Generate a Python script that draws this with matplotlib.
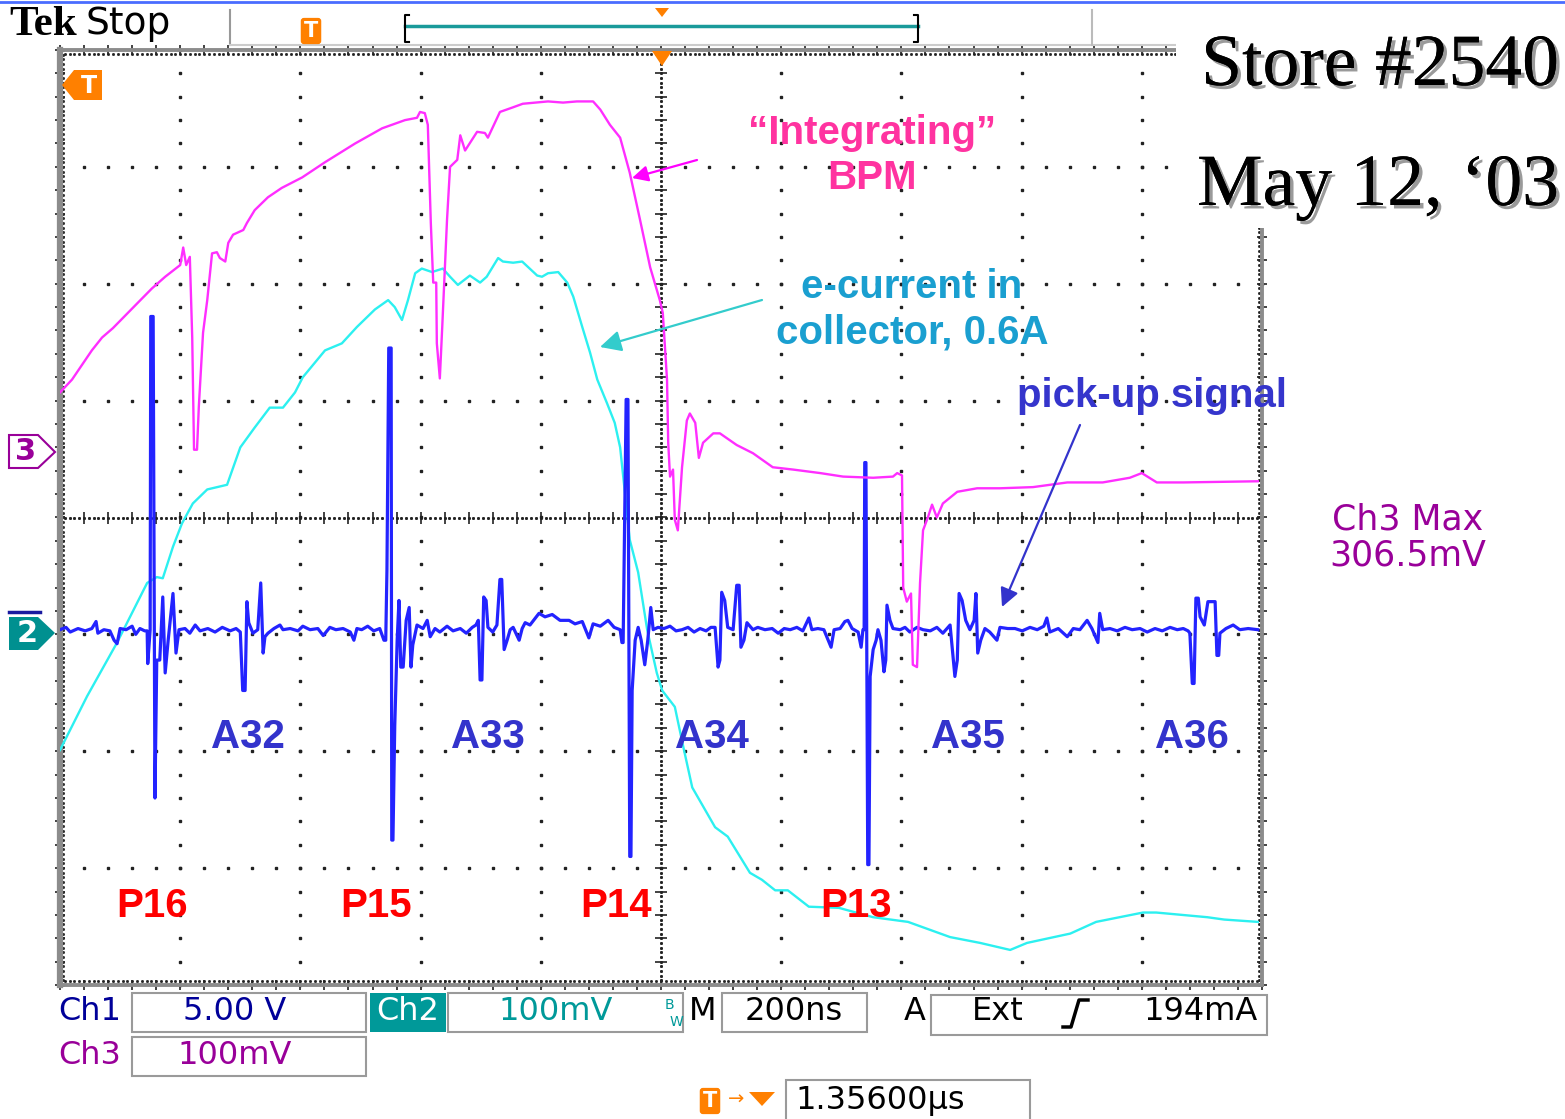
import numpy as np
import matplotlib
matplotlib.use('Agg')
import matplotlib.pyplot as plt
from matplotlib import patches
from matplotlib.lines import Line2D
import matplotlib.patheffects as pe

# scope screen: 10 div x 200 ns, levels in screen divisions (center = 0)
ch3_t = [0, 20, 53, 70, 88, 130, 153, 175, 200, 205,
         210, 216, 220, 223, 228, 231, 238, 245, 253, 261,
         266, 275, 280, 288, 305, 311, 324, 346, 369, 403,
         441, 491, 536, 574, 594, 599, 607, 612, 617, 621,
         626, 627, 632, 636, 644, 649, 661, 666, 674, 694,
         707, 712, 732, 754, 770, 812, 837, 860, 887, 899,
         915, 932, 948, 965, 982, 998, 1003, 1010, 1012, 1015,
         1020, 1023, 1028, 1035, 1043, 1048, 1057, 1063, 1070, 1087,
         1098, 1126, 1153, 1186, 1220, 1265, 1303, 1353, 1386, 1393,
         1401, 1403, 1409, 1416, 1419, 1426, 1431, 1436, 1444, 1451,
         1459, 1469, 1493, 1526, 1564, 1619, 1676, 1735, 1780, 1800,
         1825, 1869, 1993]
ch3_v = [1.07, 1.18, 1.43, 1.54, 1.62, 1.84, 1.96, 2.06, 2.16, 2.31,
         2.16, 2.23, 1.54, 0.58, 0.58, 0.95, 1.58, 1.86, 2.26, 2.27,
         2.22, 2.19, 2.35, 2.42, 2.46, 2.52, 2.63, 2.74, 2.82, 2.91,
         3.04, 3.20, 3.33, 3.40, 3.42, 3.47, 3.46, 3.36, 2.52, 2.01,
         2.01, 1.49, 1.19, 1.63, 2.55, 3.00, 3.06, 3.27, 3.14, 3.30,
         3.29, 3.25, 3.47, 3.51, 3.54, 3.56, 3.55, 3.56, 3.56, 3.49,
         3.36, 3.25, 2.95, 2.55, 2.14, 1.86, 1.75, 1.18, 0.64, 0.35,
         0.41, -0.02, -0.11, 0.43, 0.83, 0.89, 0.81, 0.51, 0.64, 0.72,
         0.72, 0.62, 0.55, 0.43, 0.41, 0.38, 0.35, 0.34, 0.35, 0.38,
         0.36, -0.60, -0.72, -0.65, -1.26, -1.28, -0.56, -0.11, 0.00, 0.11,
         0.00, 0.12, 0.22, 0.25, 0.25, 0.26, 0.30, 0.30, 0.34, 0.38,
         0.30, 0.30, 0.31]

ch2_t = [0, 45, 95, 145, 161, 171, 188, 203, 221, 245,
         278, 300, 324, 349, 371, 391, 404, 441, 469, 494,
         524, 546, 557, 569, 579, 591, 602, 619, 637, 649,
         662, 682, 699, 710, 729, 737, 754, 769, 794, 802,
         812, 829, 844, 854, 869, 882, 894, 910, 923, 932,
         940, 948, 962, 977, 993, 1002, 1023, 1037, 1052, 1090,
         1111, 1148, 1168, 1190, 1211, 1246, 1296, 1353, 1411, 1481,
         1531, 1581, 1609, 1681, 1724, 1802, 1824, 1909, 1937, 1993]
ch2_v = [-1.99, -1.53, -1.07, -0.56, -0.51, -0.52, -0.25, -0.05, 0.12, 0.24,
         0.28, 0.60, 0.77, 0.94, 0.94, 1.07, 1.20, 1.43, 1.49, 1.63,
         1.78, 1.86, 1.80, 1.69, 1.86, 2.09, 2.13, 2.10, 2.13, 2.06,
         1.99, 2.07, 2.01, 2.06, 2.22, 2.19, 2.18, 2.19, 2.07, 2.06,
         2.09, 2.10, 2.01, 1.89, 1.63, 1.41, 1.18, 0.98, 0.81, 0.60,
         0.21, -0.19, -0.47, -0.96, -1.33, -1.48, -1.62, -1.96, -2.31, -2.65,
         -2.73, -3.04, -3.10, -3.19, -3.19, -3.33, -3.34, -3.42, -3.46, -3.59,
         -3.64, -3.70, -3.64, -3.56, -3.46, -3.38, -3.38, -3.42, -3.44, -3.46]

# pick-up signal, one line per stretch
ch1_t = [0, 10, 17, 30, 42, 53, 60, 63, 73, 83, 90, 95, 100, 110, 120, 126, 133, 141,
         145, 146, 150, 151, 155, 158, 161, 166, 171, 175, 180, 188, 193, 198,
         208, 216, 225, 233, 246, 258, 270, 283, 293, 300,
         304, 308, 311, 314, 321, 329, 334, 338, 341, 346, 356, 366, 371, 383, 396,
         404, 416, 429, 438, 449, 459, 471, 483, 489, 494, 502, 512, 522, 532, 539,
         542, 544, 547, 551, 552, 554, 557, 561, 564, 567, 571, 576, 581, 584, 587,
         594, 604, 611, 616, 624, 632, 644, 654, 666, 676, 686, 692,
         696, 699, 702, 705, 709, 712, 720, 727, 732, 735, 739, 744, 749, 754, 764,
         769, 774, 782, 797, 807, 819, 832, 847, 857, 869, 880, 887, 899, 912, 922, 932,
         935, 937, 942, 945, 948, 950, 952, 957, 962, 967, 973, 978, 983, 987, 995,
         1005, 1015, 1025, 1035, 1045, 1055, 1065, 1075, 1083, 1090,
         1095, 1098, 1101, 1106, 1111, 1120, 1126, 1130, 1133, 1138, 1143, 1153, 1161,
         1173, 1185, 1195, 1205, 1215, 1226, 1236, 1246, 1251, 1261, 1271, 1283, 1288,
         1298, 1306, 1311, 1318, 1328, 1333, 1336,
         1338, 1339, 1341, 1344, 1346, 1348, 1353, 1358, 1361, 1366, 1371, 1374, 1376,
         1381, 1386, 1398, 1406, 1414, 1426, 1436, 1448, 1459, 1469, 1481,
         1489, 1493, 1496, 1501, 1507, 1514, 1521, 1524, 1527, 1532, 1539, 1547, 1559,
         1564, 1577, 1589, 1601, 1614, 1626, 1637, 1642, 1647, 1661, 1676, 1686, 1697,
         1709, 1717, 1727, 1730, 1735, 1747, 1759, 1772, 1784, 1797, 1809, 1822, 1834,
         1847, 1859, 1869, 1877,
         1880, 1884, 1887, 1890, 1894, 1897, 1904, 1910, 1917, 1922, 1925, 1928, 1930,
         1940, 1952, 1963, 1977, 1993]
ch1_v = [-0.96, -0.94, -0.98, -0.95, -0.97, -0.95, -0.89, -0.99, -0.96, -0.97, -1.05, -1.08, -0.95, -0.96, -0.93, -1.00, -0.95, -0.97,
         -0.97, -1.25, -0.96, 1.72, 1.72, -2.40, -1.22, -1.22, -0.68, -1.33, -1.05, -0.65, -1.16, -0.96,
         -0.95, -0.99, -0.92, -0.97, -0.95, -0.98, -0.94, -0.97, -0.95, -0.98,
         -1.48, -1.48, -0.72, -0.90, -0.99, -0.96, -0.56, -1.16, -1.02, -0.99, -0.95, -0.92, -0.96, -0.95, -0.97,
         -0.93, -0.96, -0.95, -1.01, -0.94, -0.96, -0.95, -0.98, -1.05, -0.95, -0.96, -0.93, -0.97, -0.95, -1.05,
         -1.05, -0.45, 1.45, 1.45, -2.76, -2.76, -1.78, -1.05, -0.71, -1.28, -1.28, -0.88, -0.77, -1.28, -1.09,
         -0.92, -0.95, -0.88, -1.02, -0.95, -0.98, -0.93, -0.97, -0.95, -0.99, -0.94, -0.92,
         -0.88, -1.39, -1.39, -0.68, -0.71, -0.94, -0.98, -0.92, -0.53, -0.53, -1.13, -1.05, -0.96, -0.94, -1.05,
         -0.95, -0.90, -0.92, -0.82, -0.85, -0.83, -0.88, -0.88, -0.91, -0.89, -1.03, -0.91, -0.93, -0.88, -0.94, -0.96,
         -1.07, -1.07, 1.01, 1.01, -2.90, -2.90, -1.48, -1.05, -0.94, -1.05, -1.26, -1.05, -0.77, -0.96, -0.94,
         -0.95, -0.93, -0.97, -0.96, -0.94, -0.98, -0.95, -0.97, -0.94, -0.94,
         -1.28, -1.22, -0.64, -0.71, -0.94, -0.96, -0.58, -0.58, -1.11, -1.05, -0.90, -0.96, -0.94,
         -0.96, -0.95, -0.99, -0.95, -0.96, -0.94, -0.97, -0.86, -0.96, -0.95, -0.96, -1.11, -0.96,
         -0.95, -0.89, -0.88, -0.95, -0.98, -1.11, -0.96,
         -0.96, 0.47, 0.47, -2.97, -2.97, -1.36, -1.13, -1.05, -0.96, -1.05, -1.32, -1.22, -0.75,
         -0.88, -0.95, -0.96, -0.94, -0.98, -0.94, -0.96, -0.97, -0.94, -0.99, -0.92,
         -1.36, -1.22, -0.65, -0.71, -0.88, -0.96, -0.88, -0.65, -1.16, -1.05, -0.95, -0.98, -1.05,
         -0.94, -0.95, -0.95, -0.97, -0.94, -0.96, -0.93, -0.86, -0.98, -0.95, -1.02, -0.95, -0.96,
         -0.88, -0.95, -1.07, -0.82, -0.96, -0.95, -0.97, -0.94, -0.96, -0.95, -0.98, -0.95, -0.97,
         -0.94, -0.96, -0.95, -0.97,
         -0.99, -1.42, -1.42, -0.69, -0.69, -0.85, -0.92, -0.72, -0.72, -0.72, -1.18, -1.18, -0.99,
         -0.95, -0.92, -0.96, -0.95, -0.96]

a_labels = ['A32', 'A33', 'A34', 'A35', 'A36']
a_label_t = [313, 712, 1085, 1511, 1884]
p_labels = ['P16', 'P15', 'P14', 'P13']
p_label_t = [153, 526, 925, 1325]

W, H = 1565, 1119
fig = plt.figure(figsize=(W / 100, H / 100), dpi=100)
fig.patch.set_facecolor('white')


def fx(x):
    return x / W


def fy(y):
    return 1 - y / H


def frect(x0, y0, x1, y1, **kw):
    r = patches.Rectangle((fx(x0), fy(y1)), (x1 - x0) / W, (y1 - y0) / H,
                          transform=fig.transFigure, **kw)
    fig.add_artist(r)
    return r


def fpoly(pts, **kw):
    p = patches.Polygon([(fx(a), fy(b)) for a, b in pts], closed=True,
                        transform=fig.transFigure, **kw)
    fig.add_artist(p)
    return p


def fline(xs, ys, **kw):
    fig.add_artist(Line2D([fx(a) for a in xs], [fy(b) for b in ys],
                          transform=fig.transFigure, **kw))


ax = fig.add_axes([fx(60), fy(985), 1202 / W, 935 / H])
ax.set_xlim(0, 2000)
ax.set_ylim(-4, 4)
ax.set_xticks([])
ax.set_yticks([])
for s in ax.spines.values():
    s.set_color('#8c8c8c')
    s.set_linewidth(2.8)
ax.spines['left'].set_linewidth(4.5)

# graticule
dot = dict(ls='none', marker='s', color='#222222', clip_on=False, zorder=1)
xs_minor = np.arange(0, 2000.1, 40)
ys_minor = np.arange(-4, 4.01, 0.2)
for gx in range(200, 2000, 200):
    if gx == 1000:
        continue
    ax.plot(np.full_like(ys_minor, gx), ys_minor, ms=1.8, **dot)
for gy in range(-3, 4):
    if gy == 0:
        continue
    ax.plot(xs_minor, np.full_like(xs_minor, gy), ms=1.8, **dot)
fine_x = np.arange(0, 2000.1, 8)
fine_y = np.arange(-4, 4.01, 0.04)
ax.plot(fine_x, np.zeros_like(fine_x), ms=1.1, **dot)
ax.plot(np.full_like(fine_y, 1000), fine_y, ms=1.1, **dot)
ax.plot(xs_minor, np.zeros_like(xs_minor), ls='none', marker='|', ms=9, mew=1.2,
        color='#222222', zorder=1)
ax.plot(np.full_like(ys_minor, 1000), ys_minor, ls='none', marker='_', ms=9, mew=1.2,
        color='#222222', zorder=1)
# edge ticks
for yy, mk in ((-4, '|'), (4, '|')):
    ax.plot(xs_minor, np.full_like(xs_minor, yy), ls='none', marker=mk, ms=7, mew=1.2,
            color='#222222', clip_on=False, zorder=1)
    ax.plot(fine_x, np.full_like(fine_x, yy - 0.03 if yy > 0 else yy + 0.03), ms=1.0, **dot)
for xx in (0, 2000):
    ax.plot(np.full_like(ys_minor, xx), ys_minor, ls='none', marker='_', ms=7, mew=1.2,
            color='#222222', clip_on=False, zorder=1)
    ax.plot(np.full_like(fine_y, xx + 5 if xx == 0 else xx - 5), fine_y, ms=1.0, **dot)

# traces
ax.plot(ch2_t, ch2_v, color='#2cf0f0', lw=1.7, zorder=3)
ax.plot(ch1_t, ch1_v, color='#2323ff', lw=2.3, zorder=4)
ax.plot(ch3_t, ch3_v, color='#ff2eff', lw=1.7, zorder=5)

lab = dict(fontsize=29, fontweight='bold', family='Liberation Sans', ha='center', va='center', zorder=6)
for name, t in zip(a_labels, a_label_t):
    ax.text(t, -1.88, name, color='#3333cc', **lab)
for name, t in zip(p_labels, p_label_t):
    ax.text(t, -3.32, name, color='#ff0000', **lab)

# annotations
ann = dict(fontsize=29, fontweight='bold', family='Liberation Sans', ha='center', va='center')
fig.text(fx(872), fy(133), '\u201cIntegrating\u201d', color='#ff33a0', **ann)
fig.text(fx(872), fy(178), 'BPM', color='#ff33a0', **ann)
fig.text(fx(912), fy(287), 'e-current in', color='#1a9fd0', **ann)
fig.text(fx(912), fy(333), 'collector, 0.6A', color='#1a9fd0', **ann)
fig.text(fx(1152), fy(396), 'pick-up signal', color='#3535cc', **ann)


def farrow(x0, y0, x1, y1, color, ms):
    fig.add_artist(patches.FancyArrowPatch((fx(x0), fy(y0)), (fx(x1), fy(y1)),
                                           transform=fig.transFigure, arrowstyle='-|>',
                                           mutation_scale=ms, color=color, lw=1.6,
                                           shrinkA=0, shrinkB=0))


farrow(697, 160, 632, 178, '#ff00ff', 24)
farrow(762, 300, 600, 347, '#33cccc', 32)
farrow(1080, 425, 1002, 607, '#3333cc', 28)

# top right cover and titles
frect(1176, 5, W, 228, fc='white', ec='none', zorder=10)
shadow = [pe.withSimplePatchShadow(offset=(2.5, -2.5), shadow_rgbFace='#9a9a9a', alpha=1.0), pe.Normal()]
fig.text(fx(1380), fy(85), 'Store #2540', fontsize=53, family='Liberation Serif', color='black',
         ha='center', va='baseline', path_effects=shadow, zorder=11)
fig.text(fx(1378), fy(205), 'May 12, \u201803', fontsize=53, family='Liberation Serif', color='black',
         ha='center', va='baseline', path_effects=shadow, zorder=11)

# top bar
fline([0, W], [1.5, 1.5], color='#4a6cff', lw=2, zorder=12)
fig.text(fx(9), fy(25), 'Tek', fontsize=31, fontweight='bold', family='Liberation Serif',
         ha='left', va='center')
fig.text(fx(85), fy(24), 'Stop', fontsize=27, family='DejaVu Sans', ha='left', va='center')
fline([230, 230], [10, 45], color='#999999', lw=1.5)
fline([230, 1176], [45, 45], color='#cccccc', lw=1.5)
fline([1092, 1092], [10, 45], color='#bbbbbb', lw=1.5)
fig.text(fx(311), fy(31), 'T', fontsize=15, fontweight='bold', color='white', ha='center', va='center',
         bbox=dict(boxstyle='round,pad=0.15', fc='#ff8000', ec='none'))
fline([405, 918], [26, 26], color='#1a9a9a', lw=2.5)
fline([409, 405, 405, 409], [15, 15, 42, 42], color='black', lw=1.5)
fline([914, 918, 918, 914], [15, 15, 42, 42], color='black', lw=1.5)
fpoly([(655, 8), (669, 8), (662, 17)], fc='#ff8000', ec='none')
fpoly([(652, 51), (672, 51), (662, 66)], fc='#ff8000', ec='none', zorder=7)
fpoly([(62, 85), (74, 70), (102, 70), (102, 100), (74, 100)], fc='#ff8000', ec='none', zorder=7)
fig.text(fx(89), fy(86), 'T', fontsize=17, fontweight='bold', color='white', ha='center', va='center', zorder=8)

# channel markers
fpoly([(9, 435), (38, 435), (55, 452), (38, 468), (9, 468)], fc='white', ec='#990099', lw=1.5)
fig.text(fx(26), fy(452), '3', fontsize=22, fontweight='bold', color='#990099', ha='center', va='center')
fline([9, 40], [612, 612], color='#1a1aa0', lw=2.5)
fpoly([(9, 617), (38, 617), (55, 633), (38, 650), (9, 650)], fc='#009090', ec='none')
fig.text(fx(27), fy(634), '2', fontsize=22, fontweight='bold', color='white', ha='center', va='center')

fig.text(fx(1408), fy(519), 'Ch3 Max', fontsize=25, color='#990099', ha='center', va='center')
fig.text(fx(1408), fy(555), '306.5mV', fontsize=25, color='#990099', ha='center', va='center')

# status bar
st = dict(fontsize=23, family='DejaVu Sans', va='center')
box = dict(fc='white', ec='#9a9a9a', lw=1.5)
fig.text(fx(90), fy(1012), 'Ch1', color='#000099', ha='center', **st)
frect(132, 993, 366, 1032, **box)
fig.text(fx(235), fy(1012), '5.00 V', color='#000099', ha='center', **st)
frect(370, 993, 446, 1032, fc='#009999', ec='none')
fig.text(fx(408), fy(1012), 'Ch2', color='white', ha='center', **st)
frect(448, 993, 683, 1032, **box)
fig.text(fx(556), fy(1012), '100mV', color='#009999', ha='center', **st)
fig.text(fx(669), fy(1005), 'B', fontsize=10, color='#009999', ha='center', va='center')
fig.text(fx(676), fy(1022), 'W', fontsize=10, color='#009999', ha='center', va='center')
fig.text(fx(703), fy(1012), 'M', color='black', ha='center', **st)
frect(722, 993, 867, 1032, **box)
fig.text(fx(794), fy(1012), '200ns', color='black', ha='center', **st)
fig.text(fx(915), fy(1012), 'A', color='black', ha='center', **st)
frect(931, 995, 1267, 1035, **box)
fig.text(fx(998), fy(1012), 'Ext', color='black', ha='center', **st)
fline([1063, 1071, 1079, 1088], [1027, 1027, 1000, 1000], color='black', lw=2.5)
fig.text(fx(1201), fy(1012), '194mA', color='black', ha='center', **st)
fig.text(fx(90), fy(1055), 'Ch3', color='#990099', ha='center', **st)
frect(132, 1037, 366, 1076, **box)
fig.text(fx(235), fy(1055), '100mV', color='#990099', ha='center', **st)

fig.text(fx(710), fy(1101), 'T', fontsize=15, fontweight='bold', color='white', ha='center', va='center',
         bbox=dict(boxstyle='round,pad=0.15', fc='#ff8000', ec='none'))
fig.text(fx(736), fy(1099), '\u2192', fontsize=14, color='#ff8000', ha='center', va='center')
fpoly([(749, 1092), (775, 1092), (762, 1106)], fc='#ff8000', ec='none')
frect(786, 1080, 1030, 1125, **box)
fig.text(fx(795), fy(1100), '1.35600\u00b5s', color='black', ha='left', **st)

fig.savefig('out.png', dpi=100, facecolor='white')
